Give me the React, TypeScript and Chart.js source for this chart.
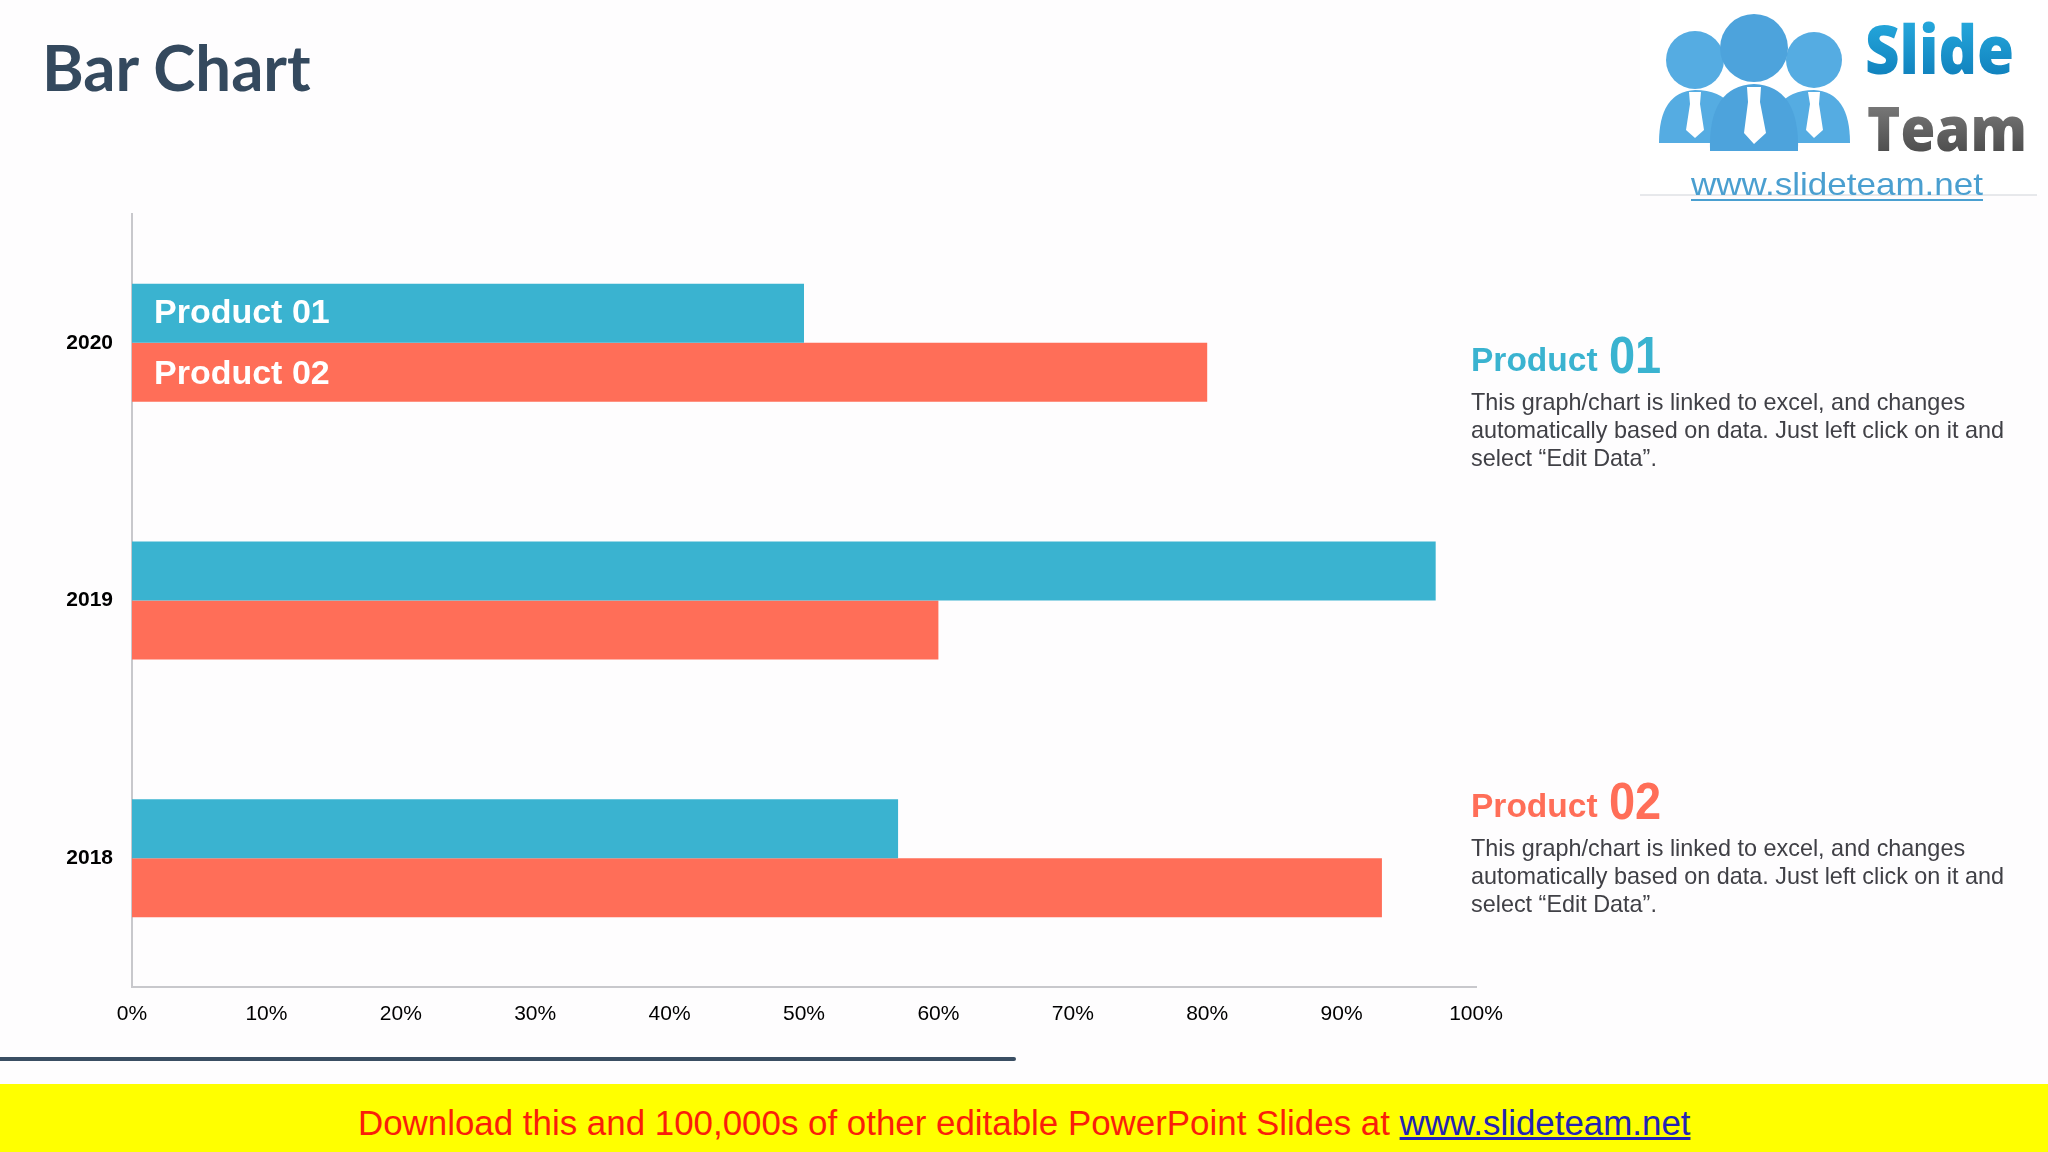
import { useEffect, useRef } from "react"
import Chart from "chart.js/auto"

const years = ["2020", "2019", "2018"]
const product01 = [50, 97, 57]
const product02 = [80, 60, 93]
const seriesNames = ["Product 01", "Product 02"]
const xTicks = [0, 10, 20, 30, 40, 50, 60, 70, 80, 90, 100]
const blurb = [
  "This graph/chart is linked to excel, and changes",
  "automatically based on data. Just left click on it and",
  "select “Edit Data”.",
]

const BLUE = "#3ab3d0"
const CORAL = "#ff6e58"
const AXIS = "#c8c8cc"
const SANS = "'Liberation Sans', Arial, sans-serif"

// writes the series name inside the first (2020) bars
const barNames = {
  id: "barNames",
  afterDatasetsDraw(chart: any) {
    const ctx = chart.ctx
    ctx.save()
    ctx.fillStyle = "#ffffff"
    ctx.font = `bold 34px ${SANS}`
    ctx.textBaseline = "alphabetic"
    chart.data.datasets.forEach((ds: any, i: number) => {
      const bar = chart.getDatasetMeta(i).data[0]
      ctx.fillText(ds.label, bar.base + 22, bar.y + (i === 0 ? 10 : 12))
    })
    ctx.restore()
  },
}

function Blurb({ top, color, num }: { top: number; color: string; num: string }) {
  return (
    <div style={{ position: "absolute", left: 1471, top, width: 570, fontFamily: SANS }}>
      <div style={{ position: "absolute", left: 0, top: 0, whiteSpace: "nowrap", color, fontWeight: 700, fontSize: 33.5, lineHeight: "60px" }}>
        Product{" "}
        <span style={{ display: "inline-block", position: "relative", top: 1.5, fontSize: 47, lineHeight: "60px", marginLeft: 2, transform: "scaleY(1.1)", transformOrigin: "50% 78%" }}>{num}</span>
      </div>
      {blurb.map((line, i) => (
        <div
          key={line}
          style={{ position: "absolute", left: 0, top: 63 + i * 28, whiteSpace: "nowrap", color: "#404046", fontSize: 23.4, lineHeight: "28px" }}
        >
          {line}
        </div>
      ))}
    </div>
  )
}

function Logo() {
  return (
    <svg
      style={{ position: "absolute", left: 1620, top: 0 }}
      width={428}
      height={210}
      viewBox="0 0 428 210"
    >
      <defs>
        <linearGradient id="slideFill" x1="0" y1="0" x2="0" y2="1">
          <stop offset="0" stopColor="#2cb4e6" />
          <stop offset="1" stopColor="#0a76b4" />
        </linearGradient>
        <linearGradient id="teamFill" x1="0" y1="0" x2="0" y2="1">
          <stop offset="0" stopColor="#8a8a8a" />
          <stop offset="1" stopColor="#3f3f3f" />
        </linearGradient>
      </defs>
      <rect x="20" y="0" width="400" height="195" fill="#ffffff" />
      <g fill="#55ace2">
        <circle cx="75" cy="60" r="29" />
        <circle cx="194" cy="60" r="28" />
        <path d="M39 143 Q39 92 75 90 Q100 90 112 106 L112 143 Z" />
        <path d="M230 143 Q230 92 194 90 Q170 90 158 106 L158 143 Z" />
      </g>
      <g fill="#4da3dc">
        <circle cx="134" cy="48" r="34" />
        <path d="M90 151 Q88 86 134 84 Q180 86 178 151 Z" />
      </g>
      <g fill="#ffffff">
        <path d="M69 92 L81 92 L80 104 L84 130 L75 138 L66 130 L70 104 Z" />
        <path d="M127 87 L141 87 L140 102 L146 133 L134 144 L124 133 L128 102 Z" />
        <path d="M188 92 L200 92 L199 104 L203 130 L194 138 L186 130 L190 104 Z" />
      </g>
      <text x="245" y="74" fontFamily="'Open Sans', sans-serif" fontWeight="800" fontSize="67" fill="url(#slideFill)" textLength="149" lengthAdjust="spacingAndGlyphs">
        Slide
      </text>
      <text x="247" y="151" fontFamily="'Open Sans', sans-serif" fontWeight="800" fontSize="62" fill="url(#teamFill)" textLength="160" lengthAdjust="spacingAndGlyphs">
        Team
      </text>
      <line x1="20" y1="195" x2="417" y2="195" stroke="#cfd3d8" strokeWidth="1" />
      <text x="71" y="195" fontFamily={SANS} fontSize="32" fill="#4a9fd0" textLength="292" lengthAdjust="spacingAndGlyphs">
        www.slideteam.net
      </text>
      <line x1="71" y1="200" x2="363" y2="200" stroke="#4a9fd0" strokeWidth="2" />
    </svg>
  )
}

export default function App() {
  const canvasRef = useRef<HTMLCanvasElement | null>(null)

  useEffect(() => {
    if (!canvasRef.current) return
    const chart = new Chart(canvasRef.current, {
      type: "bar",
      data: {
        labels: years,
        datasets: [
          { label: seriesNames[0], data: product01, backgroundColor: BLUE },
          { label: seriesNames[1], data: product02, backgroundColor: CORAL },
        ],
      },
      plugins: [barNames],
      options: {
        indexAxis: "y",
        responsive: false,
        animation: false,
        devicePixelRatio: 1,
        layout: { padding: { left: 0, top: 214, right: 572, bottom: 0 } },
        datasets: { bar: { barPercentage: 1, categoryPercentage: 0.458 } },
        plugins: { legend: { display: false }, tooltip: { enabled: false } },
        scales: {
          x: {
            min: 0,
            max: 100,
            afterBuildTicks: (axis: any) => {
              axis.ticks = xTicks.map((value) => ({ value }))
            },
            afterFit: (axis: any) => {
              axis.height = 165
            },
            grid: { display: false },
            border: { color: AXIS, width: 2 },
            ticks: {
              padding: 7,
              maxRotation: 0,
              color: "#000000",
              font: { family: SANS, size: 21 },
              callback: (v: any) => `${v}%`,
            },
          },
          y: {
            afterFit: (axis: any) => {
              axis.width = 132
            },
            grid: { display: false },
            border: { color: AXIS, width: 2 },
            ticks: {
              padding: 11,
              color: "#000000",
              font: { family: SANS, size: 21, weight: "bold" },
            },
          },
        },
      },
    } as any)
    return () => chart.destroy()
  }, [])

  return (
    <div style={{ position: "absolute", left: 0, top: 0, width: 2048, height: 1152, overflow: "hidden", background: "#fefdfe" }}>
      <canvas ref={canvasRef} width={2048} height={1152} style={{ position: "absolute", left: 0, top: 0 }} />
      <div style={{ position: "absolute", left: 42, top: 30, color: "#34495e", fontFamily: "Lato, sans-serif", fontWeight: 700, fontSize: 63.5, lineHeight: "74px", whiteSpace: "nowrap" }}>
        Bar Chart
      </div>
      <Logo />
      <Blurb top={325} color={BLUE} num="01" />
      <Blurb top={771} color={CORAL} num="02" />
      <div style={{ position: "absolute", left: 0, top: 1057, width: 1016, height: 4, background: "#3a4e63", borderRadius: "0 2px 2px 0" }} />
      <div style={{ position: "absolute", left: 0, top: 1084, width: 2048, height: 68, background: "#ffff00" }}>
        <div style={{ position: "absolute", left: 358, top: 16, whiteSpace: "nowrap", color: "#fa1e0a", fontFamily: SANS, fontSize: 34.9, lineHeight: "46px" }}>
          Download this and 100,000s of other editable PowerPoint Slides at{" "}
          <span style={{ color: "#2323b4", textDecoration: "underline" }}>www.slideteam.net</span>
        </div>
      </div>
    </div>
  )
}
